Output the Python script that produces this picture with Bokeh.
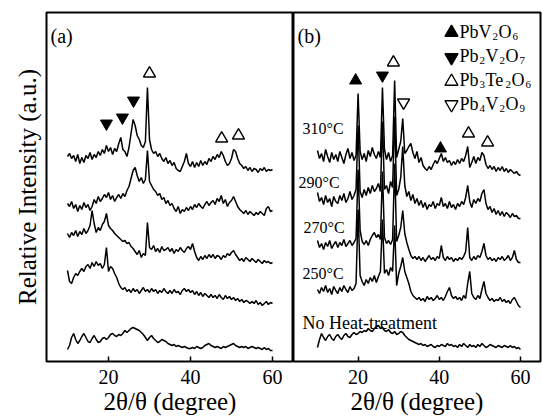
from bokeh.plotting import figure
from bokeh.models import Range1d, FixedTicker, Label
from bokeh.layouts import row
from bokeh.embed import file_html
from bokeh.resources import INLINE

# ---------------- data ----------------
TWO_THETA = [
    10.0, 10.5, 11.0, 11.5, 12.0, 12.5, 13.0, 13.5, 14.0, 14.5,
    15.0, 15.5, 16.0, 16.5, 17.0, 17.5, 18.0, 18.5, 19.0, 19.5,
    20.0, 20.5, 21.0, 21.5, 22.0, 22.5, 23.0, 23.5, 24.0, 24.5,
    25.0, 25.5, 26.0, 26.5, 27.0, 27.5, 28.0, 28.5, 29.0, 29.5,
    30.0, 30.5, 31.0, 31.5, 32.0, 32.5, 33.0, 33.5, 34.0, 34.5,
    35.0, 35.5, 36.0, 36.5, 37.0, 37.5, 38.0, 38.5, 39.0, 39.5,
    40.0, 40.5, 41.0, 41.5, 42.0, 42.5, 43.0, 43.5, 44.0, 44.5,
    45.0, 45.5, 46.0, 46.5, 47.0, 47.5, 48.0, 48.5, 49.0, 49.5,
    50.0, 50.5, 51.0, 51.5, 52.0, 52.5, 53.0, 53.5, 54.0, 54.5,
    55.0, 55.5, 56.0, 56.5, 57.0, 57.5, 58.0, 58.5, 59.0, 59.5,
    60.0]

# panel (a), top to bottom
A_TRACE_1 = [
    205, 208, 203, 206, 200, 207, 198, 204, 199, 206,
    203, 209, 202, 207, 204, 210, 206, 212, 208, 216,
    210, 214, 207, 213, 210, 218, 224, 212, 210, 205,
    214, 228, 242, 236, 226, 222, 216, 214, 220, 274,
    222, 212, 208, 210, 205, 208, 203, 200, 204, 198,
    201, 196, 199, 193, 191, 190, 195, 200, 208, 198,
    195, 200, 194, 199, 195, 201, 196, 200, 197, 203,
    200, 205, 202, 207, 204, 210, 206, 200, 196, 198,
    203, 212, 210, 203, 198, 196, 193, 195, 191, 194,
    190, 193, 192, 189, 193, 191, 194, 190, 192, 191,
    192]
A_TRACE_2 = [
    158, 155, 160, 153, 157, 150, 156, 152, 159, 154,
    157, 151, 155, 162, 158, 165, 160, 163, 167, 164,
    169, 162, 166, 160, 164, 167, 163, 168, 165, 171,
    175, 183, 191, 194, 186, 180, 184, 178, 182, 211,
    180, 176, 172, 170, 166, 168, 162, 164, 158, 161,
    156, 158, 153, 150, 155, 148, 152, 150, 154, 151,
    155, 152, 157, 154, 158, 155, 153, 157, 160, 156,
    159, 161, 157, 163, 160, 166, 158, 162, 155, 159,
    161, 165, 160, 155, 152, 150, 148, 151, 147, 150,
    148, 146, 149, 147, 150, 148, 146, 153, 155, 150,
    151]
A_TRACE_3 = [
    128, 124, 129, 126, 131, 125, 130, 127, 133, 128,
    131, 136, 151, 138, 129, 134, 131, 137, 140, 148,
    136, 133, 131, 128, 126, 124, 122, 120, 121, 118,
    119, 115, 113, 110, 107, 111, 104, 108, 106, 139,
    114, 112, 116, 110, 113, 109, 115, 111, 112, 114,
    110, 113, 108, 112, 110, 114, 111, 109, 113, 115,
    112, 118, 110, 104, 101, 105, 102, 106, 103, 107,
    104, 107, 103, 106, 105, 102, 106, 104, 108, 106,
    109, 111, 107, 104, 101, 103, 100, 104, 102, 100,
    103, 101, 99, 102, 100, 98, 101, 99, 100, 98,
    99]
A_TRACE_4 = [
    91, 80, 78, 84, 88, 86, 90, 93, 90, 95,
    97, 93, 99, 95, 100, 96, 98, 93, 97, 114,
    90, 95, 93, 88, 84, 78, 74, 72, 74, 70,
    72, 69, 73, 70, 72, 68, 71, 74, 70, 72,
    69, 73, 70, 72, 68, 71, 69, 73, 70, 68,
    71, 68, 72, 69, 70, 67, 71, 73, 70, 72,
    69, 71, 67, 70, 66, 69, 65, 68, 66, 64,
    67, 64, 66, 63, 67, 64, 62, 66, 63, 65,
    62, 64, 61, 63, 60, 62, 59, 61, 60, 58,
    60, 58, 61, 57, 59, 56, 58, 60, 57, 59,
    58]
A_TRACE_5 = [
    12, 16, 24, 28, 22, 18, 21, 25, 28, 24,
    20, 19, 23, 26, 22, 19, 20, 23, 24, 22,
    24, 27, 28, 26, 25, 27, 26, 28, 31, 29,
    31, 33, 34, 33, 32, 31, 29, 27, 24, 21,
    24, 26, 23, 21, 19, 20, 22, 21, 20, 18,
    17, 16, 17, 15, 16, 15, 14, 15, 14, 13,
    13, 14, 13, 15, 14, 13, 14, 16, 17, 18,
    16, 15, 14, 15, 14, 13, 15, 14, 15, 16,
    17, 18, 16, 15, 14, 15, 14, 15, 13, 14,
    15, 14, 13, 14, 13, 12, 14, 12, 13, 11,
    11]

# panel (b)
B_LABELS = ["310\u00b0C", "290\u00b0C", "270\u00b0C", "250\u00b0C", "No Heat-treatment"]
B_310 = [
    211, 203, 208, 200, 212, 205, 199, 209, 202, 207,
    200, 210, 204, 198, 207, 213, 203, 209, 201, 206,
    268, 210, 202, 208, 200, 211, 205, 214, 207, 203,
    210, 204, 274, 212, 202, 209, 200, 206, 281, 204,
    212, 220, 243, 208, 211, 215, 218, 209, 203, 210,
    199, 204, 196, 193, 191, 195, 192, 197, 201, 198,
    203, 208, 200, 204, 199, 201, 196, 200, 197, 202,
    198, 203, 200, 206, 215, 194, 199, 205, 198, 204,
    201, 209, 206, 197, 193, 196, 192, 195, 190, 194,
    191, 195, 190, 193, 189, 192, 190, 188, 190, 187,
    186]
B_290 = [
    169, 160, 164, 157, 166, 159, 163, 155, 165, 160,
    158, 166, 161, 168, 159, 163, 170, 162, 166, 172,
    236, 170, 164, 172, 166, 174, 168, 176, 170, 173,
    178, 170, 240, 172, 176, 168, 180, 174, 245, 166,
    172, 184, 215, 176, 165, 170, 161, 167, 158, 163,
    156, 161, 154, 159, 152, 157, 155, 160, 153, 158,
    156, 164, 155, 158, 153, 160, 154, 157, 152, 158,
    155, 160, 157, 164, 176, 160, 154, 162, 158, 163,
    160, 168, 172, 158, 152, 155, 149, 153, 147, 151,
    146, 150, 145, 149, 147, 144, 148, 145, 146, 143,
    143]
B_270 = [
    121, 114, 118, 112, 119, 115, 121, 113, 117, 120,
    114, 119, 116, 122, 115, 118, 121, 116, 119, 123,
    192, 131, 120, 117, 121, 116, 122, 126, 129, 124,
    127, 122, 190, 124, 118, 121, 117, 122, 198, 120,
    126, 134, 151, 128, 119, 112, 106, 103, 105, 102,
    105, 101, 104, 100, 103, 106, 102, 104, 101, 105,
    103, 116, 104, 101, 105, 102, 104, 100, 103, 101,
    104, 102, 105, 110, 134, 104, 101, 105, 102, 106,
    104, 110, 118, 106, 102, 104, 101, 103, 100, 104,
    102, 105, 101, 103, 106, 101, 104, 111, 102, 99,
    99]
B_250 = [
    72, 68, 74, 70, 76, 69, 73, 67, 75, 71,
    68, 74, 70, 76, 72, 69, 75, 71, 73, 78,
    152, 86, 80, 76, 82, 78, 84, 80, 86, 79,
    85, 90, 142, 88, 92, 86, 94, 90, 136, 76,
    88, 95, 104, 90, 84, 78, 70, 66, 64, 62,
    64, 61, 63, 60, 65, 62, 64, 61, 63, 66,
    62, 64, 61, 65, 70, 74, 66, 63, 65, 62,
    64, 61, 66, 63, 78, 90, 68, 64, 62, 66,
    63, 72, 80, 68, 64, 61, 63, 60, 62, 61,
    64, 60, 62, 59, 61, 58, 62, 64, 60, 56,
    54]
B_RAW = [
    14, 22, 28, 24, 21, 25, 27, 23, 21, 25,
    27, 24, 22, 26, 28, 25, 24, 27, 29, 27,
    28, 30, 29, 31, 30, 33, 31, 30, 33, 35,
    36, 33, 34, 31, 30, 32, 29, 28, 30, 27,
    28, 30, 29, 26, 24, 22, 21, 20, 19, 18,
    17, 18, 16, 17, 15, 16, 17, 15, 14, 16,
    15, 17, 16, 15, 18, 16, 17, 15, 16, 14,
    17, 15, 18, 16, 14, 17, 15, 16, 14, 17,
    15, 18, 16, 14, 15, 17, 16, 15, 14, 16,
    15, 14, 16, 15, 14, 16, 14, 15, 13, 14,
    12]

# phase markers (2theta, height)
A_PB2V2O7_X = [19.5, 23.4, 26.1]
A_PB2V2O7_Y = [238, 244, 261]
A_PB3TE2O6_X = [30.0, 47.6, 51.7]
A_PB3TE2O6_Y = [288, 223, 226]
B_PBV2O6_X = [19.4, 40.3]
B_PBV2O6_Y = [281, 213]
B_PB2V2O7_X = [26.0]
B_PB2V2O7_Y = [286]
B_PB3TE2O6_X = [28.7, 47.2, 51.9]
B_PB3TE2O6_Y = [299, 228, 219]
B_PB4V2O9_X = [31.2]
B_PB4V2O9_Y = [259]

X_TICKS = [20, 40, 60]

# ---------------- layout helpers ----------------
FONT = "Liberation Serif"
TOP, BOTTOM = 12, 361
FRAME_H = BOTTOM - TOP
FRAME_W = 247
A_X0, A_X1 = 4.88, 65.12
B_X0, B_X1 = 4.09, 64.93
TEXT_SHIFT = 6  # empirical baseline correction (pixels)


def ypx(py):
    return BOTTOM - py


def bx(px):
    return B_X0 + (px - 293) * (B_X1 - B_X0) / FRAME_W


def ax(px):
    return A_X0 + (px - 46) * (A_X1 - A_X0) / FRAME_W


def make_fig(x0, x1, left, right, with_y):
    p = figure(frame_width=FRAME_W, frame_height=FRAME_H,
               x_range=Range1d(x0, x1), y_range=Range1d(0, FRAME_H),
               min_border_left=left, min_border_right=right,
               min_border_top=TOP, min_border_bottom=419 - BOTTOM,
               toolbar_location=None, output_backend="svg",
               y_axis_location="left" if with_y else None,
               background_fill_color="white", border_fill_color="white")
    p.xgrid.visible = False
    p.ygrid.visible = False
    p.outline_line_color = "black"
    p.outline_line_width = 2
    xa = p.xaxis[0]
    xa.ticker = FixedTicker(ticks=X_TICKS, minor_ticks=[])
    xa.major_tick_in = 5
    xa.major_tick_out = 0
    xa.major_tick_line_width = 1.5
    xa.major_tick_line_color = "black"
    xa.minor_tick_line_color = None
    xa.axis_line_color = None
    xa.major_label_text_font = FONT
    xa.major_label_text_font_size = "20px"
    xa.major_label_text_color = "black"
    xa.major_label_standoff = 8
    xa.axis_label = "2\u03b8/\u03b8 (degree)"
    xa.axis_label_text_font = FONT
    xa.axis_label_text_font_size = "25px"
    xa.axis_label_text_font_style = "normal"
    xa.axis_label_text_color = "black"
    xa.axis_label_standoff = 1
    if with_y:
        ya = p.yaxis[0]
        ya.ticker = FixedTicker(ticks=[], minor_ticks=[])
        ya.axis_line_color = None
        ya.major_tick_line_color = None
        ya.minor_tick_line_color = None
        ya.major_label_text_font_size = "0px"
        ya.major_label_standoff = 0
        ya.axis_label = "Relative Intensity (a.u.)"
        ya.axis_label_text_font = FONT
        ya.axis_label_text_font_size = "25px"
        ya.axis_label_text_font_style = "normal"
        ya.axis_label_text_color = "black"
        ya.axis_label_standoff = 6
    return p


def add_text(p, x, base_py, text, size, align="left"):
    p.add_layout(Label(x=x, y=ypx(base_py - TEXT_SHIFT), text=text, text_font=FONT,
                       text_font_size=size, text_color="black",
                       text_baseline="alphabetic", text_align=align))


# ---------------- panel (a) ----------------
pa = make_fig(A_X0, A_X1, 46, 0, True)
for tr in [A_TRACE_1, A_TRACE_2, A_TRACE_3, A_TRACE_4, A_TRACE_5]:
    pa.line(TWO_THETA, tr, line_color="black", line_width=1.5)
pa.scatter(A_PB2V2O7_X, A_PB2V2O7_Y, marker="inverted_triangle", size=12,
           fill_color="black", line_color="black")
pa.scatter(A_PB3TE2O6_X, A_PB3TE2O6_Y, marker="triangle", size=12,
           fill_color="white", line_color="black", line_width=1.4)
add_text(pa, ax(50), 41, "(a)", "20px")

# ---------------- panel (b) ----------------
pb = make_fig(B_X0, B_X1, 0, 2, False)
for tr in [B_310, B_290, B_270, B_250, B_RAW]:
    pb.line(TWO_THETA, tr, line_color="black", line_width=1.5)
pb.scatter(B_PBV2O6_X, B_PBV2O6_Y, marker="triangle", size=12,
           fill_color="black", line_color="black")
pb.scatter(B_PB2V2O7_X, B_PB2V2O7_Y, marker="inverted_triangle", size=12,
           fill_color="black", line_color="black")
pb.scatter(B_PB3TE2O6_X, B_PB3TE2O6_Y, marker="triangle", size=12,
           fill_color="white", line_color="black", line_width=1.4)
pb.scatter(B_PB4V2O9_X, B_PB4V2O9_Y, marker="inverted_triangle", size=12,
           fill_color="white", line_color="black", line_width=1.4)

add_text(pb, bx(297), 41, "(b)", "20px")
label_pos = [(302, 134), (298, 188), (303, 233), (302, 279), (302, 328)]
for txt, (lx, ly) in zip(B_LABELS, label_pos):
    add_text(pb, bx(lx), ly, txt, "18px" if txt.startswith("No") else "16px")

# legend (marker + formula with subscripts), pieces chained left to right
legend_rows = [
    ("triangle", "black", 32, 37, [("PbV", 459, 32), ("2", 492, 6), ("O", 498, 13), ("6", 512, 6)]),
    ("inverted_triangle", "black", 57, 61, [("Pb", 459, 19), ("2", 479, 6), ("V", 485, 13), ("2", 499, 6), ("O", 505, 13), ("7", 519, 6)]),
    ("triangle", "white", 81, 85, [("Pb", 459, 19), ("3", 479, 6), ("Te", 485, 19), ("2", 505, 6), ("O", 511, 13), ("6", 525, 6)]),
    ("inverted_triangle", "white", 104, 109, [("Pb", 459, 19), ("4", 479, 6), ("V", 485, 13), ("2", 499, 6), ("O", 505, 13), ("9", 519, 6)]),
]
for mk, fill, my, base, pieces in legend_rows:
    pb.scatter([bx(451)], [ypx(my)], marker=mk, size=13, fill_color=fill,
               line_color="black", line_width=1.4)
    for txt, lx, _w in pieces:
        if txt.isdigit():
            add_text(pb, bx(lx), base + 5, txt, "11px")
        else:
            add_text(pb, bx(lx), base, txt, "18px")

layout = row(pa, pb)
open("out.html", "w").write(file_html(layout, INLINE))
